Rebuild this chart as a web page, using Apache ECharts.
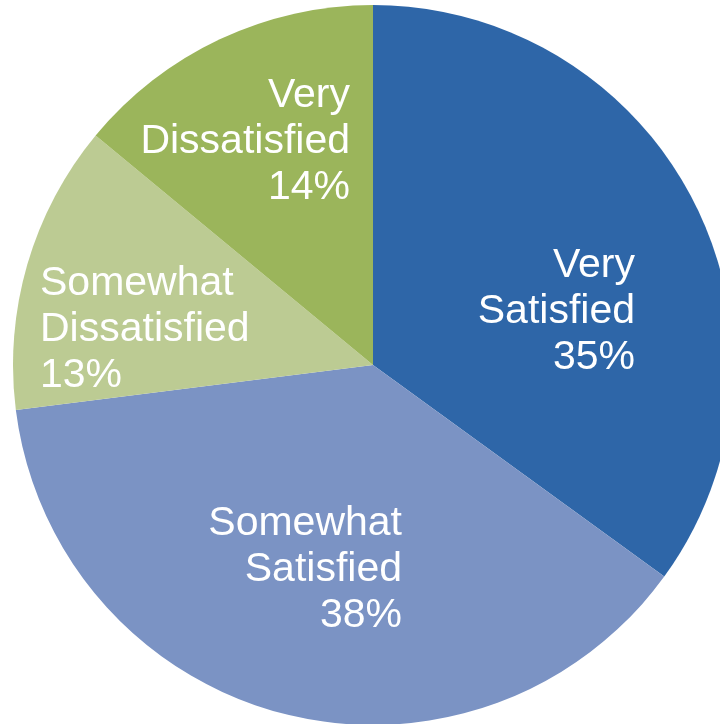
<!DOCTYPE html>
<html>
<head>
<meta charset="utf-8">
<script src="https://cdn.jsdelivr.net/npm/echarts@6/dist/echarts.min.js"></script>
<style>html,body{margin:0;padding:0;background:#fff;}#c{width:720px;height:724px;}</style>
</head>
<body>
<div id="c"></div>
<script>
var categories = ["Very Satisfied", "Somewhat Satisfied", "Somewhat Dissatisfied", "Very Dissatisfied"];
var values = [35, 38, 13, 14];
var colors = ["#2e66a8", "#7b93c4", "#bccb93", "#9bb55b"];

var labelSpots = [
  {x: 635, y: 312, align: 'right'},
  {x: 402, y: 570, align: 'right'},
  {x: 40, y: 330, align: 'left'},
  {x: 350, y: 142, align: 'right'}
];

var chart = echarts.init(document.getElementById('c'), null, {renderer: 'canvas'});
chart.setOption({
  animation: false,
  series: [{
    type: 'pie',
    center: [373, 365],
    radius: [0, 360],
    startAngle: 90,
    clockwise: true,
    label: {
      show: true,
      position: 'inside',
      color: '#ffffff',
      fontFamily: 'Liberation Sans, Arial, sans-serif',
      fontSize: 41,
      lineHeight: 46,
      formatter: function (p) { return p.name.replace(' ', '\n') + '\n' + p.value + '%'; }
    },
    labelLine: {show: false},
    labelLayout: function (p) {
      var s = labelSpots[p.dataIndex];
      return {x: s.x, y: s.y, align: s.align, verticalAlign: 'middle'};
    },
    itemStyle: {borderWidth: 0},
    emphasis: {disabled: true},
    data: categories.map(function (c, i) {
      return {name: c, value: values[i], itemStyle: {color: colors[i]}, label: {align: labelSpots[i].align}};
    })
  }]
});
</script>
</body>
</html>
